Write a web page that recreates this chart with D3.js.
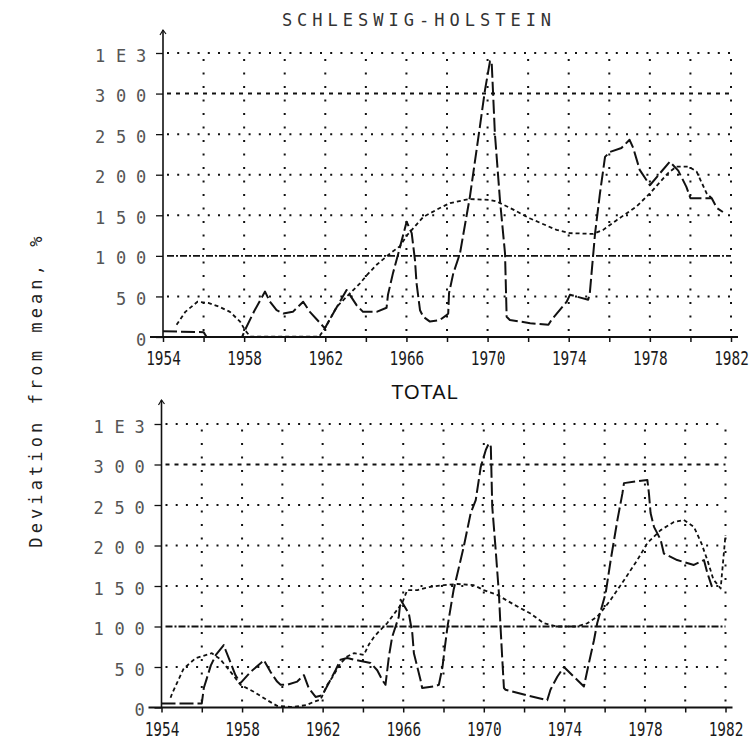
<!DOCTYPE html>
<html>
<head>
<meta charset="utf-8">
<script src="https://cdn.jsdelivr.net/npm/d3@7"></script>
<style>
  body { margin: 0; background: #fff; }
  svg { display: block; }
</style>
</head>
<body>
<svg id="chart" width="750" height="740"></svg>
<script>
// Deviation from the long-term mean (%), as [year, value] pairs.
// Schleswig-Holstein: annual series (dashed) and running index (dotted)
const shLandings = [
  [1954,7],[1956,6],[1956.15,0],[1957.9,0],[1958.04,8.6],[1958.5,32],[1959.03,56],
  [1959.27,43.5],[1959.6,33],[1959.93,29],[1960.4,31],[1960.91,43.5],[1961.24,31],
  [1961.98,10.7],[1962.5,34],[1963.05,58],[1963.55,39],[1963.86,31],[1964.53,31],
  [1965.02,36],[1965.09,52],[1965.34,79],[1965.58,101],[1966.01,142],[1966.26,128],
  [1966.42,95],[1966.5,66],[1966.67,33],[1966.83,25],[1967.16,19],[1967.65,21],
  [1967.98,27],[1968.06,29],[1968.1,54],[1968.31,78.5],[1968.64,103],[1969.13,173],
  [1969.62,259],[1969.87,304],[1970.12,340],[1970.2,340],[1970.36,251],[1970.61,169],
  [1970.86,103],[1970.94,25],[1971.1,21],[1972.1,17],[1973.0,15],[1973.15,21],
  [1973.9,43.5],[1974.06,52],[1974.96,46],[1975.04,54],[1975.3,128],[1975.54,177],
  [1975.79,222],[1976.03,228],[1976.6,233],[1977.0,243],[1977.18,233],[1977.5,206],
  [1978.0,187],[1978.98,216],[1979.4,205],[1979.8,185],[1980.0,171],[1981.05,171],
  [1981.3,159],[1981.6,154]
];
const shTrend = [
  [1954.67,15],[1955.1,31],[1955.7,43.5],[1956.23,42],[1956.8,37],[1957.3,31],
  [1957.8,19],[1958.04,8.6],[1958.3,0.5],[1961.7,0.5],[1961.98,10.7],[1962.56,37],
  [1963.22,54],[1963.71,66],[1964.04,76],[1964.53,89],[1965.15,102],[1965.68,112],
  [1966.05,126],[1966.83,148],[1967.65,159],[1968.15,165],[1969.1,170],[1970.1,169],
  [1970.45,167],[1971.27,157],[1972.1,146],[1973.4,132],[1974.06,128],[1975.2,127],
  [1975.7,132],[1976.36,144],[1977.35,161],[1978.0,177],[1978.9,202],[1979.3,210],
  [1979.9,210],[1980.3,204],[1980.8,177],[1981.05,171]
];

// Total: annual series (dashed) and running index (dotted)
const totLandings = [
  [1954,5],[1956,5],[1956.1,24],[1956.25,36],[1956.45,52],[1956.7,65],[1957.09,77],
  [1957.18,71],[1957.34,61],[1957.67,40],[1957.92,30],[1958.42,44],[1958.92,54.5],
  [1959.08,58.6],[1959.41,44],[1959.74,32],[1959.91,28],[1960.24,28],[1960.74,32],
  [1961.07,40],[1961.31,24],[1961.65,13],[1961.98,15],[1962.3,30],[1962.64,46],
  [1962.89,59],[1963.22,61],[1963.55,59],[1964.38,55],[1964.71,46],[1964.96,34],
  [1965.12,28],[1965.29,63],[1965.45,87],[1965.78,112],[1965.87,133],[1966.28,116],
  [1966.45,92],[1966.53,67],[1966.7,50],[1966.86,34],[1966.94,24],[1967.52,26],
  [1967.77,28],[1967.95,50],[1968.05,71],[1968.2,100],[1968.5,145],[1969.0,198],
  [1969.35,240],[1969.6,256],[1969.85,297],[1970.1,318],[1970.25,326],[1970.35,322],
  [1970.42,248],[1970.58,198],[1970.75,141],[1970.83,100],[1970.92,59],[1971.0,24],
  [1971.08,22],[1972.16,15],[1973.15,9],[1973.31,22],[1973.65,38],[1973.98,50],
  [1974.47,38],[1974.97,26],[1975.22,55],[1975.47,83],[1975.63,104],[1976.05,141],
  [1976.3,182],[1976.63,231],[1976.88,264],[1976.96,277],[1978.12,281],[1978.2,264],
  [1978.28,240],[1978.45,223],[1978.78,207],[1978.94,190],[1979.6,182],[1980.43,176],
  [1980.93,182],[1981.1,166],[1981.33,149]
];
const totTrend = [
  [1954.45,12],[1954.53,17.5],[1955.1,48],[1955.7,61],[1956.5,67],[1956.9,60],
  [1957.4,45],[1957.92,28],[1958.58,19.5],[1959.25,9],[1959.74,2],[1960.5,0.5],
  [1961.2,3],[1961.56,7],[1961.9,10],[1962.23,28],[1962.55,40],[1962.89,54.5],
  [1963.22,63],[1963.55,67],[1964.05,65],[1964.3,78],[1964.55,87],[1964.8,94],
  [1965.2,104],[1965.95,129],[1966.2,145],[1966.7,145],[1967.36,149],[1968.02,151],
  [1968.68,152.5],[1969.5,151],[1970.0,145],[1970.67,139],[1971.5,127],[1972.32,116],
  [1972.98,104],[1973.65,100],[1974.64,100],[1975.14,104],[1975.63,112],[1975.96,122],
  [1976.3,133],[1976.96,157],[1977.62,182],[1978.12,203],[1978.78,219],[1979.44,229],
  [1979.93,231.5],[1980.43,223],[1980.8,203],[1981.1,182],[1981.4,158],[1981.76,147],
  [1982.0,213]
];

// Axis ticks and labels
const yTickValues = [0, 50, 100, 150, 200, 250, 300, 350];
const yTickLabels = ["0", "50", "100", "150", "200", "250", "300", "1E3"];
const xTickYears = d3.range(1954, 1983, 2);
const xLabelYears = [1954, 1958, 1962, 1966, 1970, 1974, 1978, 1982];
const panelTitles = ["SCHLESWIG-HOLSTEIN", "TOTAL"];
const yAxisTitle = "Deviation from mean, %";

const INK = "#111";
const svg = d3.select("#chart");

function drawPanel(cfg) {
  const g = svg.append("g");
  const x = d3.scaleLinear().domain([1954, 1982]).range([cfg.left, cfg.right]);
  const y = d3.scaleLinear().domain([0, 350]).range([cfg.bottom, cfg.top]);

  // vertical dotted grid, every two years
  g.append("g").selectAll("line")
    .data(xTickYears.filter(d => d > 1954))
    .join("line")
    .attr("x1", d => x(d)).attr("x2", d => x(d))
    .attr("y1", y(0) - 6).attr("y2", y(350))
    .attr("stroke", INK).attr("stroke-width", 2)
    .attr("stroke-dasharray", "2 11.5");

  // horizontal grid: dotted, with a dashed 300 line and a dash-dot 100 line
  const hStyle = v => v === 100 ? "7 2 2 2" : v === 300 ? "4 5" : "2 8.2";
  g.append("g").selectAll("line")
    .data(yTickValues.filter(v => v > 0))
    .join("line")
    .attr("x1", x(1954) + 4).attr("x2", x(1982))
    .attr("y1", d => y(d)).attr("y2", d => y(d))
    .attr("stroke", INK)
    .attr("stroke-width", d => d === 100 ? 1.8 : 2)
    .attr("stroke-dasharray", d => hStyle(d));

  // y axis with spaced, fixed-slot digits
  const yAxis = g.append("g")
    .attr("transform", `translate(${x(1954)},0)`)
    .call(d3.axisLeft(y).tickValues(yTickValues).tickSize(7)
      .tickFormat((d, i) => yTickLabels[i]));
  yAxis.select(".domain").remove();
  yAxis.attr("font-family", null).attr("font-size", null).attr("text-anchor", null);
  yAxis.selectAll(".tick line").attr("stroke", INK).attr("stroke-width", 1.3);
  const slots = [-63, -42, -22];
  yAxis.selectAll(".tick text").each(function (d, i) {
    const s = yTickLabels[i];
    const t = d3.select(this)
      .text(null)
      .attr("x", null).attr("dy", null)
      .attr("y", 2)
      .attr("dominant-baseline", "central")
      .attr("text-anchor", "middle")
      .attr("font-family", "DejaVu Sans Mono")
      .attr("font-size", 17)
      .attr("fill", "#555");
    s.split("").forEach((ch, k) => {
      t.append("tspan").attr("x", slots[3 - s.length + k]).text(ch);
    });
  });

  // vertical axis line with a small arrow tip
  g.append("line")
    .attr("x1", x(1954)).attr("x2", x(1954))
    .attr("y1", y(0)).attr("y2", cfg.axisTop)
    .attr("stroke", INK).attr("stroke-width", 1.6);
  g.append("path")
    .attr("d", `M${x(1954) - 3},${cfg.axisTop + 5}L${x(1954)},${cfg.axisTop}L${x(1954) + 3},${cfg.axisTop + 4}`)
    .attr("fill", "none").attr("stroke", INK).attr("stroke-width", 1.2);

  // x axis: ticks every two years, labels every four
  const xAxis = g.append("g")
    .attr("transform", `translate(0,${y(0)})`)
    .call(d3.axisBottom(x).tickValues(xTickYears).tickSize(5)
      .tickFormat(d => xLabelYears.includes(d) ? String(d) : ""));
  xAxis.select(".domain").remove();
  xAxis.attr("font-family", null).attr("font-size", null);
  xAxis.selectAll(".tick line").attr("stroke", INK).attr("stroke-width", 1.5);
  xAxis.selectAll(".tick text")
    .attr("y", 21.5).attr("dy", null)
    .attr("dominant-baseline", "central")
    .attr("text-anchor", "middle")
    .attr("font-family", "DejaVu Sans Mono")
    .attr("font-size", 20)
    .attr("fill", "#1a1a1a")
    .attr("transform", "scale(0.72,1)");

  g.append("line")
    .attr("x1", x(1954) - 13).attr("x2", x(1982) + 7)
    .attr("y1", y(0)).attr("y2", y(0))
    .attr("stroke", INK).attr("stroke-width", 2.2);

  const line = d3.line().x(d => x(d[0])).y(d => y(d[1]));

  // running index (dotted)
  g.append("path")
    .datum(cfg.trend)
    .attr("d", line)
    .attr("fill", "none")
    .attr("stroke", INK).attr("stroke-width", 1.8)
    .attr("stroke-dasharray", "4 3")
    .attr("stroke-linejoin", "round");

  // annual series (dashed)
  g.append("path")
    .datum(cfg.series)
    .attr("d", line)
    .attr("fill", "none")
    .attr("stroke", INK).attr("stroke-width", 2)
    .attr("stroke-dasharray", "14 4")
    .attr("stroke-linejoin", "round");

  // panel title
  g.append("text")
    .attr("x", cfg.titleX).attr("y", cfg.titleY)
    .attr("text-anchor", "middle")
    .attr("dominant-baseline", "central")
    .attr("font-family", cfg.titleFont)
    .attr("font-size", cfg.titleSize)
    .attr("letter-spacing", cfg.titleSpacing)
    .attr("fill", cfg.titleFill)
    .text(cfg.title);
}

drawPanel({
  left: 163, right: 731, bottom: 337, top: 53, axisTop: 30,
  series: shLandings, trend: shTrend,
  title: panelTitles[0], titleX: 419, titleY: 20,
  titleFont: "DejaVu Sans Mono", titleSize: 17, titleSpacing: 5, titleFill: "#333"
});

drawPanel({
  left: 161.5, right: 725.5, bottom: 707.5, top: 424, axisTop: 400,
  series: totLandings, trend: totTrend,
  title: panelTitles[1], titleX: 425, titleY: 392,
  titleFont: "Liberation Sans", titleSize: 20, titleSpacing: 1, titleFill: "#111"
});

// shared vertical axis title
svg.append("text")
  .attr("transform", "translate(36,390) rotate(-90)")
  .attr("text-anchor", "middle")
  .attr("dominant-baseline", "central")
  .attr("font-family", "DejaVu Sans Mono")
  .attr("font-size", 17)
  .attr("letter-spacing", 4.1)
  .attr("fill", "#222")
  .text(yAxisTitle);
</script>
</body>
</html>
